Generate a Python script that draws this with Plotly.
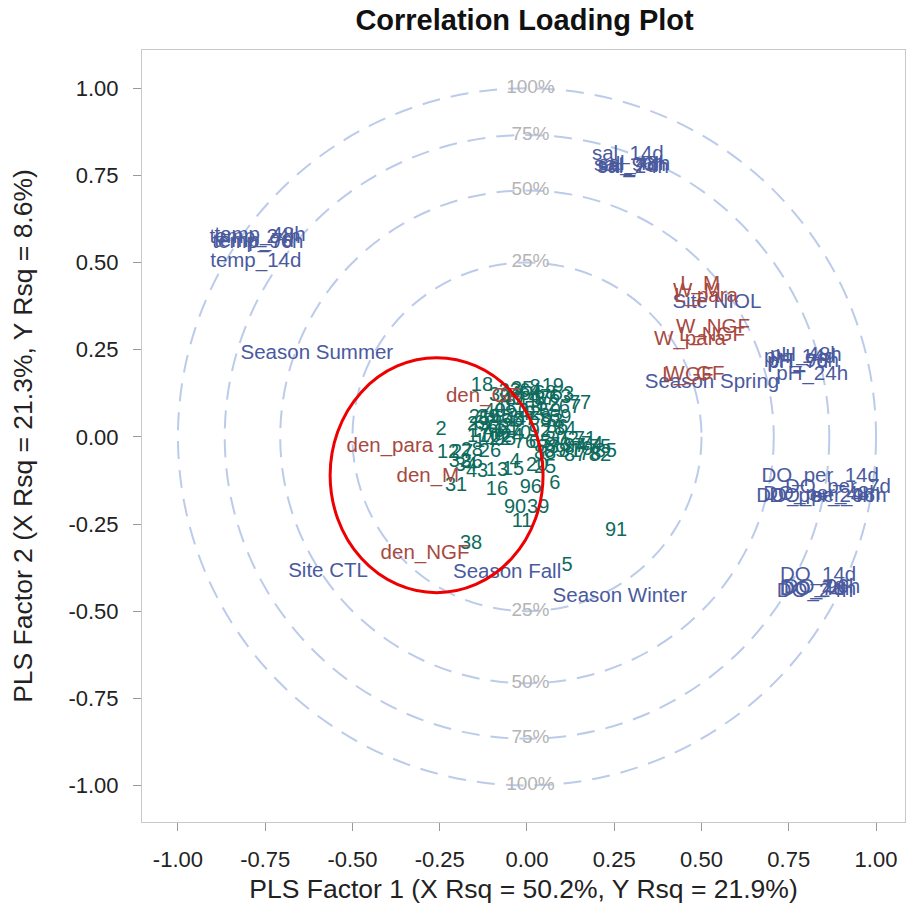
import plotly.graph_objects as go

# ---------------- data ----------------
blue_labels = ["temp_48h", "temp_24h", "temp_96h", "temp_7d", "temp_14d",
               "sal_14d", "sal_48h", "sal_24h", "sal_96h", "sal_7d",
               "pH_48h", "pH_14d", "pH_96h", "pH_7d", "pH_24h",
               "DO_per_14d", "DO_per_7d", "DO_per_24h", "DO_per_48h", "DO_per_96h",
               "DO_14d", "DO_48h", "DO_24h", "DO_96h", "DO_7d",
               "Site NIOL", "Season Spring", "Season Summer", "Site CTL",
               "Season Fall", "Season Winter"]
blue_x = [-0.765, -0.779, -0.771, -0.782, -0.777,
          0.289, 0.307, 0.304, 0.295, 0.289,
          0.799, 0.782, 0.791, 0.776, 0.817,
          0.840, 0.891, 0.825, 0.845, 0.862,
          0.834, 0.834, 0.825, 0.845, 0.817,
          0.544, 0.530, -0.602, -0.570, -0.057, 0.266]
blue_y = [0.577, 0.571, 0.557, 0.560, 0.502,
          0.809, 0.780, 0.772, 0.778, 0.775,
          0.232, 0.227, 0.215, 0.212, 0.178,
          -0.115, -0.146, -0.172, -0.166, -0.172,
          -0.399, -0.439, -0.445, -0.433, -0.439,
          0.385, 0.155, 0.238, -0.387, -0.390, -0.459]

red_labels = ["L_M", "W_M", "L_para", "W_NGF", "L_NGF", "W_para", "L_GF", "W_GF",
              "den_GF", "den_para", "den_M", "den_NGF"]
red_x = [0.496, 0.487, 0.513, 0.533, 0.530, 0.467, 0.461, 0.481,
         -0.126, -0.393, -0.284, -0.292]
red_y = [0.436, 0.416, 0.402, 0.313, 0.290, 0.278, 0.175, 0.178,
         0.115, -0.029, -0.115, -0.336]

green_labels = ["18", "19", "8", "53", "63", "67", "77", "69", "45", "40", "41", "47",
                "48", "49", "50", "51", "52", "54", "55", "56", "57", "58", "59", "60",
                "61", "62", "64", "68", "21", "23", "1", "17", "2", "10", "14", "22",
                "24", "86", "70", "76", "65", "80", "72", "71", "74", "94", "85", "82",
                "78", "87", "89", "88", "27", "28", "26", "12", "34", "36", "43", "13",
                "15", "4", "20", "25", "31", "16", "96", "6", "90", "39", "11", "38",
                "5", "91", "32", "29", "30", "33", "35", "37", "42", "44", "46", "73",
                "75", "79", "81", "83", "84", "92", "93", "95", "9", "7"]
green_x = [-0.129, 0.074, 0.023, 0.103, 0.095, 0.123, 0.152, 0.095, -0.020, -0.043, 0.000, 0.037,
           -0.063, -0.092, -0.026, 0.023, 0.060, -0.106, -0.072, -0.043, -0.006, 0.037, 0.066, -0.083,
           -0.054, -0.120, 0.009, 0.052, -0.135, -0.140, -0.149, -0.140, -0.246, -0.106, -0.120, -0.077,
           -0.043, 0.086, -0.020, -0.006, 0.037, 0.083, 0.117, 0.166, 0.186, 0.138, 0.226, 0.209,
           0.181, 0.138, 0.080, 0.052, -0.186, -0.158, -0.106, -0.226, -0.175, -0.158, -0.143, -0.086,
           -0.040, -0.034, 0.029, 0.052, -0.203, -0.086, 0.011, 0.080, -0.034, 0.032, -0.014, -0.160,
           0.115, 0.255, -0.192, -0.112, -0.077, -0.049, -0.014, 0.052, 0.009, -0.034, -0.095, 0.095,
           0.209, 0.158, 0.123, 0.060, 0.109, 0.037, 0.072, -0.063, 0.026, 0.152]
green_y = [0.146, 0.143, 0.141, 0.121, 0.112, 0.083, 0.095, 0.055, 0.121, 0.106, 0.100, 0.112,
           0.083, 0.072, 0.072, 0.077, 0.089, 0.049, 0.055, 0.043, 0.049, 0.049, 0.072, 0.026,
           0.020, 0.037, 0.129, 0.123, 0.055, 0.034, 0.014, 0.000, 0.020, 0.000, -0.014, -0.009,
           0.000, 0.026, 0.009, -0.017, -0.017, -0.009, -0.009, -0.009, -0.023, -0.029, -0.043, -0.055,
           -0.052, -0.055, -0.043, -0.049, -0.046, -0.040, -0.043, -0.046, -0.083, -0.075, -0.100, -0.098,
           -0.095, -0.072, -0.083, -0.089, -0.141, -0.152, -0.146, -0.135, -0.204, -0.204, -0.244, -0.307,
           -0.370, -0.270, -0.072, 0.055, 0.118, 0.129, 0.135, 0.106, 0.063, 0.049, 0.014, -0.026,
           -0.032, -0.037, -0.043, -0.032, 0.020, 0.014, 0.043, -0.009, 0.100, -0.029]

circle_pcts = ["100%", "75%", "50%", "25%"]
circle_radii = [1.0, 0.866, 0.707, 0.5]

tick_vals = [-1.0, -0.75, -0.5, -0.25, 0.0, 0.25, 0.5, 0.75, 1.0]
tick_text = ["-1.00", "-0.75", "-0.50", "-0.25", "0.00", "0.25", "0.50", "0.75", "1.00"]

highlight_center = (-0.259, -0.110)
highlight_radii = (0.305, 0.337)

# ---------------- styling ----------------
BLUE = "#4a5a9e"
RED = "#a8493f"
GREEN = "#0d6b5e"
FONT = "Liberation Sans, Arial, sans-serif"
LABEL_SIZE = 20.5

fig = go.Figure()

shapes = []
for r in circle_radii:
    shapes.append(dict(type="circle", xref="x", yref="y", x0=-r, x1=r, y0=-r, y1=r,
                       line=dict(color="#bccbea", width=2, dash="18px,11px"), layer="below"))
cx, cy = highlight_center
rx, ry = highlight_radii
shapes.append(dict(type="circle", xref="x", yref="y", x0=cx - rx, x1=cx + rx,
                   y0=cy - ry, y1=cy + ry, line=dict(color="#ee0000", width=3)))

# circle percentage labels (top and bottom)
pct_x = [0.01] * (2 * len(circle_pcts))
pct_y = [r for r in circle_radii] + [-r for r in circle_radii]
fig.add_trace(go.Scatter(x=pct_x, y=pct_y, mode="text", text=circle_pcts + circle_pcts,
                         textfont=dict(family=FONT, size=19, color="#b4b4b4"),
                         hoverinfo="skip", showlegend=False))

fig.add_trace(go.Scatter(x=green_x, y=green_y, mode="text", text=green_labels,
                         textfont=dict(family=FONT, size=20, color=GREEN), showlegend=False))
fig.add_trace(go.Scatter(x=blue_x, y=blue_y, mode="text", text=blue_labels,
                         textfont=dict(family=FONT, size=LABEL_SIZE, color=BLUE), showlegend=False))
fig.add_trace(go.Scatter(x=red_x, y=red_y, mode="text", text=red_labels,
                         textfont=dict(family=FONT, size=LABEL_SIZE, color=RED), showlegend=False))

axis_common = dict(tickvals=tick_vals, ticktext=tick_text, showgrid=False, zeroline=False,
                   showline=True, mirror=True, linecolor="#c8c8c8", linewidth=1,
                   ticks="outside", ticklen=8, tickcolor="#9a9a9a",
                   ticklabelstandoff=10,
                   tickfont=dict(family=FONT, size=22, color="#222222"))

fig.update_layout(
    width=906, height=917,
    margin=dict(l=142, r=1, t=50, b=95, autoexpand=False),
    paper_bgcolor="white", plot_bgcolor="white",
    shapes=shapes,
    title=dict(text="<b>Correlation Loading Plot</b>", x=0.579, xanchor="center",
               y=0.978, yanchor="middle",
               font=dict(family=FONT, size=29, color="#111111")),
    xaxis=dict(range=[-1.103, 1.083],
               title=dict(text="PLS Factor 1 (X Rsq = 50.2%, Y Rsq = 21.9%)",
                          font=dict(family=FONT, size=26.5, color="#222222"), standoff=8),
               **axis_common),
    yaxis=dict(range=[-1.105, 1.110],
               title=dict(text="PLS Factor 2 (X Rsq = 21.3%, Y Rsq = 8.6%)",
                          font=dict(family=FONT, size=26.5, color="#222222"), standoff=28),
               **axis_common),
)

fig.write_html("out.html")
